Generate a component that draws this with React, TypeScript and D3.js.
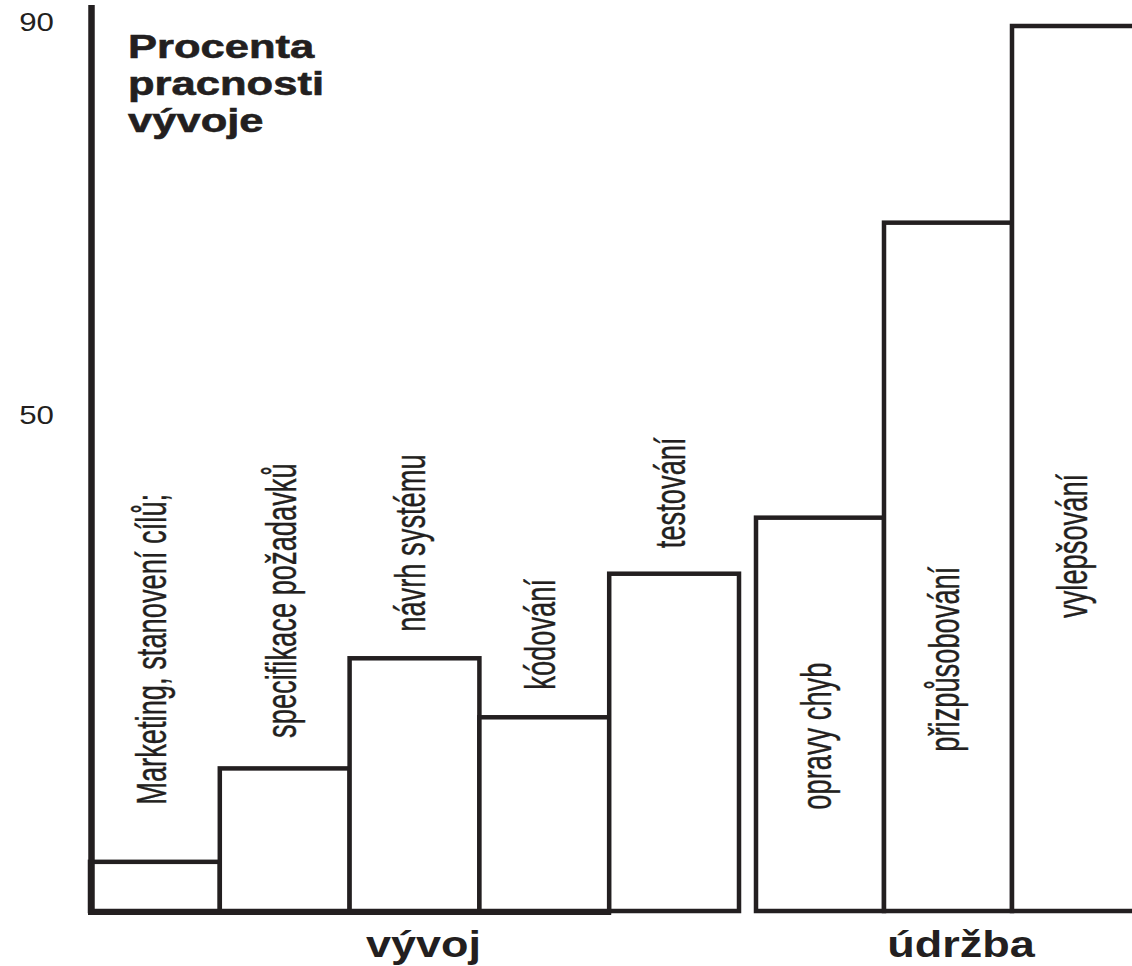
import * as d3 from "d3"

const devPhases = ["Marketing, stanovení cílů;", "specifikace požadavků", "návrh systému", "kódování", "testování"]
const devValues = [5, 14.5, 25.7, 19.7, 34.3]
const maintPhases = ["opravy chyb", "přizpůsobování", "vylepšování"]
const maintValues = [40, 70, 90]
const yTicks = [50, 90]
const groupLabels = ["vývoj", "údržba"]
const titleLines = ["Procenta", "pracnosti", "vývoje"]
// where each rotated label starts, in chart units
const devLabelAt = [10.8, 17.6, 28.4, 22.5, 36.9]
const maintLabelAt = [10.3, 16.2, 29.8]

export default function App() {
  const width = 1132
  const height = 966
  const ink = "#231f20"
  const font = "'Liberation Sans', Arial, sans-serif"

  const y = d3.scaleLinear().domain([0, 90]).range([911, 26])
  const xDev = d3.scaleBand().domain(devPhases).range([90, 739])
  const xMaint = d3.scaleBand().domain(maintPhases).range([756, 1140])

  const groups = [
    { names: devPhases, values: devValues, at: devLabelAt, x: xDev },
    { names: maintPhases, values: maintValues, at: maintLabelAt, x: xMaint },
  ]

  return (
    <svg
      width={width}
      height={height}
      style={{ position: "absolute", left: 0, top: 0, background: "#fff" }}
      fontFamily={font}
    >
      {/* bars */}
      {groups.map((g, gi) =>
        g.names.map((name, i) => (
          <rect
            key={`${gi}-${name}`}
            x={g.x(name)}
            y={y(g.values[i])}
            width={g.x.bandwidth()}
            height={y(0) - y(g.values[i])}
            fill="#fff"
            stroke={ink}
            strokeWidth={4.5}
          />
        ))
      )}

      {/* axes */}
      <line x1={91.5} x2={91.5} y1={5} y2={915} stroke={ink} strokeWidth={6.5} />
      <line x1={88} x2={(xDev("testování") || 0) + 2} y1={912.5} y2={912.5} stroke={ink} strokeWidth={5} />

      {/* rotated phase labels */}
      {groups.map((g, gi) =>
        g.names.map((name, i) => {
          const cx = (g.x(name) || 0) + g.x.bandwidth() / 2
          return (
            <text
              key={`l-${gi}-${name}`}
              transform={`translate(${cx},${y(g.at[i])}) rotate(-90) scale(0.65,1)`}
              fontSize={42}
              dy="0.26em"
              fill={ink}
              stroke={ink}
              strokeWidth={0.4}
            >
              {name}
            </text>
          )
        })
      )}

      {/* y tick labels */}
      {yTicks.map((t) => (
        <text
          key={t}
          transform={`translate(54,${y(t) + 5}) scale(1.25,1)`}
          textAnchor="end"
          fontSize={25}
          fill={ink}
        >
          {t}
        </text>
      ))}

      {/* title */}
      <g transform="translate(128,0) scale(1.32,1)" fontWeight="bold" fontSize={33} fill={ink}>
        {titleLines.map((line, i) => (
          <text key={line} x={0} y={58 + i * 37} stroke={ink} strokeWidth={0.6}>
            {line}
          </text>
        ))}
      </g>

      {/* group labels */}
      {[xDev, xMaint].map((sc, i) => {
        const [a, b] = sc.range()
        const cx = (a + Math.min(b, width)) / 2 + (i === 0 ? 9 : 17)
        return (
          <text
            key={groupLabels[i]}
            transform={`translate(${cx},957) scale(1.25,1)`}
            textAnchor="middle"
            fontWeight="bold"
            fontSize={36}
            fill={ink}
          >
            {groupLabels[i]}
          </text>
        )
      })}
    </svg>
  )
}
